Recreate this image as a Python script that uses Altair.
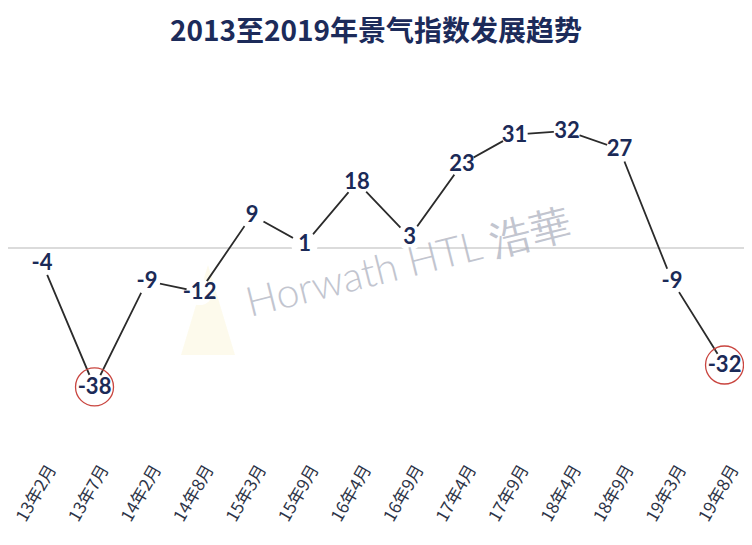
import altair as alt
import pandas as pd

title_text = "2013至2019年景气指数发展趋势"
periods = ["13年2月", "13年7月", "14年2月", "14年8月", "15年3月", "15年9月", "16年4月",
           "16年9月", "17年4月", "17年9月", "18年4月", "18年9月", "19年3月", "19年8月"]
values = [-4, -38, -9, -12, 9, 1, 18, 3, 23, 31, 32, 27, -9, -32]
circled = ["13年7月", "19年8月"]
watermark = "Horwath HTL 浩華"

df = pd.DataFrame({"idx": list(range(len(periods))), "period": periods, "value": values})
df["label"] = [str(v) for v in values]
df["circled"] = df["period"].isin(circled)

W, H = 736, 380
label_expr = "[" + ",".join('"%s"' % p for p in periods) + "][datum.value]"

x_scale = alt.Scale(domain=[-0.648, 13.371], nice=False, zero=False)
y_scale = alt.Scale(domain=[-52.5, 51.4], nice=False, zero=False)

x_enc = alt.X("idx:Q", scale=x_scale,
              axis=alt.Axis(title=None, values=list(range(len(periods))), labelExpr=label_expr,
                            labelAngle=300, domain=False, ticks=False, grid=False,
                            labelFontSize=17, labelFont="Noto Sans CJK SC",
                            labelColor="#2d3447", labelPadding=26, labelAlign="right",
                            labelBaseline="middle", labelOverlap=False, labelBound=False,
                            labelFlush=False, labelOffset=10))
y_enc = alt.Y("value:Q", scale=y_scale, axis=None)

base = alt.Chart(df).encode(x=x_enc, y=y_enc)

zero_rule = alt.Chart(pd.DataFrame({"z": [0]})).mark_rule(
    color="#cfcfcf", strokeWidth=1.5).encode(y=alt.Y("z:Q", scale=y_scale, axis=None))

logo = alt.Chart(pd.DataFrame({"k": ["logo"]})).mark_point(
    shape="M0,-1 L-0.6,1 L0.6,1 Z", filled=True, color="#f5e7a8", opacity=0.22,
    size=8100, strokeWidth=0
).encode(x=alt.value(200), y=alt.value(250))

line = base.mark_line(color="#2b2b2b", strokeWidth=1.8)

mask = base.mark_point(shape="circle", filled=True, color="white", opacity=1, size=700)

wm = alt.Chart(pd.DataFrame({"t": [watermark]})).mark_text(
    align="left", baseline="alphabetic", angle=346, fontSize=41,
    font="Lato", fontWeight=300, color="#aeb2bf", opacity=0.75
).encode(text="t:N", x=alt.value(242), y=alt.value(257))

labels = base.mark_text(font="Lato", fontWeight="bold", fontSize=22,
                        color="#1b2a57", baseline="middle", align="center").encode(
    text="label:N")

rings = base.transform_filter(alt.datum.circled).mark_point(
    shape="circle", filled=False, color="#c9453f", strokeWidth=1.3, size=1444, opacity=1)

chart = alt.layer(zero_rule, logo, line, mask, wm, labels, rings).properties(
    width=W, height=H,
    title=alt.Title(title_text, fontSize=28, font="Noto Sans CJK SC", fontWeight="bold",
                    color="#1c2b5a", anchor="middle", offset=13),
    autosize=alt.AutoSizeParams(type="none"),
    padding={"top": 52, "left": 0, "right": 0, "bottom": 97},
).configure(background="white").configure_view(strokeWidth=0, stroke=None)

chart.save("out.html", embed_options={"renderer": "svg", "actions": False})
